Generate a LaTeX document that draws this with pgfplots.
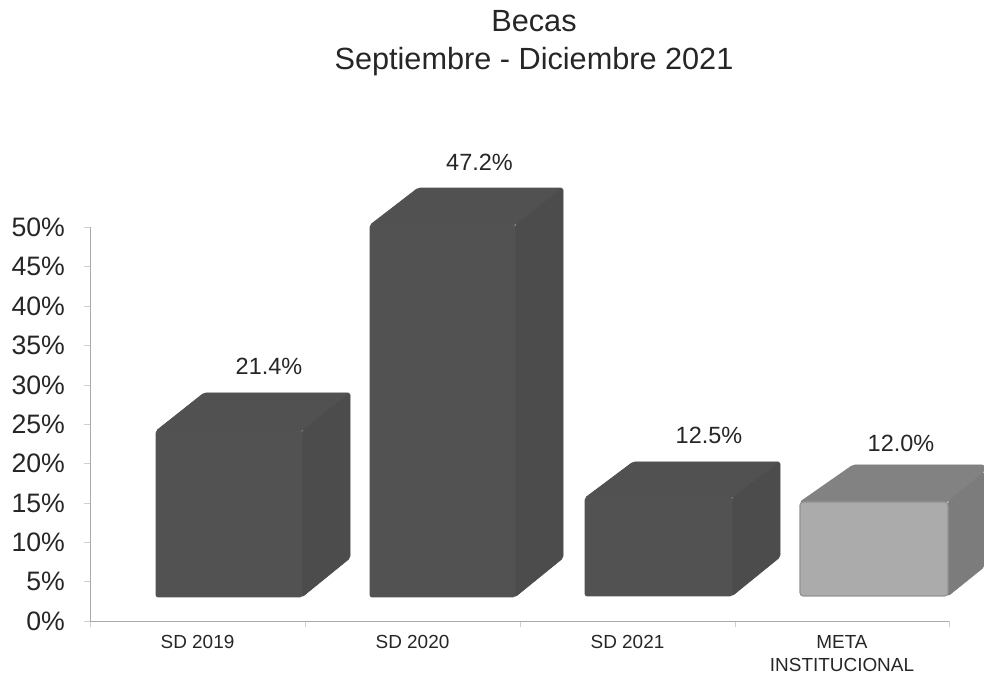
\documentclass[border=0pt]{standalone}
\usepackage{pgfplots}
\pgfplotsset{compat=1.18}
\usepackage{fontspec}
\setmainfont{Liberation Sans}
\definecolor{txt}{HTML}{262626}
\definecolor{axl}{HTML}{ABABAB}
\definecolor{tkl}{HTML}{CFCFCF}
\definecolor{dkF}{HTML}{525252}
\definecolor{dkT}{HTML}{515151}
\definecolor{dkS}{HTML}{4C4C4C}
\definecolor{ltF}{HTML}{ABABAB}
\definecolor{ltE}{HTML}{929292}
\definecolor{ltT}{HTML}{828282}
\definecolor{ltS}{HTML}{7C7C7C}
\pgfplotsset{
  face/.style={fill=#1,draw=#1,line width=0.5pt,rounded corners=1.5pt,line join=round,forget plot},
}
\begin{document}
\begin{tikzpicture}
\useasboundingbox (-67.5pt,-41.25pt) rectangle (670.5pt,465.75pt);
\begin{axis}[
  at={(0pt,0pt)},anchor=south west,
  scale only axis,width=644.25pt,height=295.2pt,
  xmin=90,xmax=949,ymin=0,ymax=50,
  clip=false,
  axis lines=left,
  axis line style={-,draw=axl,line width=0.7pt},
  tick style={draw=tkl,line width=0.5pt},
  tick align=outside,
  major tick length=4.5pt,
  xtick={90,305,520,735,949},
  xticklabels={},
  extra x ticks={197.5,412.5,627.5,842},
  extra x tick labels={SD 2019,SD 2020,SD 2021,{META\\INSTITUCIONAL}},
  extra x tick style={major tick length=0pt,
    tick label style={font=\fontsize{14.2pt}{17.3pt}\selectfont,text=txt,align=center,anchor=north,yshift=-7pt}},
  ytick={0,5,...,50},
  yticklabel={\pgfmathprintnumber{\tick}\%},
  /pgf/number format/assume math mode=true,
  y tick label style={font=\fontsize{20pt}{24pt}\selectfont,text=txt,xshift=-10.75pt},
]
% SD 2019
\addplot[face=dkT] coordinates {(156,24.14)(204,28.97)(350,28.97)(302,24.14)} --cycle;
\addplot[face=dkS] coordinates {(302,24.14)(350,28.97)(350,8.0)(302,3.05)} --cycle;
\addplot[face=dkF] coordinates {(156,3.05)(156,24.14)(302,24.14)(302,3.05)} --cycle;
% SD 2020
\addplot[face=dkT] coordinates {(370,50.3)(418,55.0)(563,55.0)(515,50.3)} --cycle;
\addplot[face=dkS] coordinates {(515,50.3)(563,55.0)(563,8.0)(515,3.05)} --cycle;
\addplot[face=dkF] coordinates {(370,3.05)(370,50.3)(515,50.3)(515,3.05)} --cycle;
% SD 2021
\addplot[face=dkT] coordinates {(585,15.63)(633,20.2)(780,20.2)(732,15.63)} --cycle;
\addplot[face=dkS] coordinates {(732,15.63)(780,20.2)(780,8.13)(732,3.18)} --cycle;
\addplot[face=dkF] coordinates {(585,3.18)(585,15.63)(732,15.63)(732,3.18)} --cycle;
% META
\addplot[face=ltT] coordinates {(800,15.12)(853,19.82)(984,19.82)(984,18.93)(948,15.12)} --cycle;
\addplot[face=ltS] coordinates {(948,15.12)(984,18.93)(984,6.86)(948,3.18)} --cycle;
\addplot[fill=ltF,draw=ltE,line width=0.9pt,rounded corners=2.5pt,line join=round,forget plot] coordinates {(800,3.18)(800,15.12)(948,15.12)(948,3.18)} --cycle;
% value labels
\addplot[only marks,mark=none,forget plot,point meta=explicit symbolic,
  nodes near coords,
  nodes near coords style={anchor=center,font=\fontsize{17.6pt}{20pt}\selectfont,text=txt,inner sep=0pt}]
  coordinates {
    (269,32.3)[21.4\%]
    (479.5,58.3)[47.2\%]
    (709,23.6)[12.5\%]
    (901,22.6)[12.0\%]
  };
\node[align=center,text=txt,font=\fontsize{23pt}{28.5pt}\selectfont,anchor=center]
  at (axis cs:534,73.4) {Becas\\Septiembre - Diciembre 2021};
\end{axis}
\end{tikzpicture}
\end{document}
